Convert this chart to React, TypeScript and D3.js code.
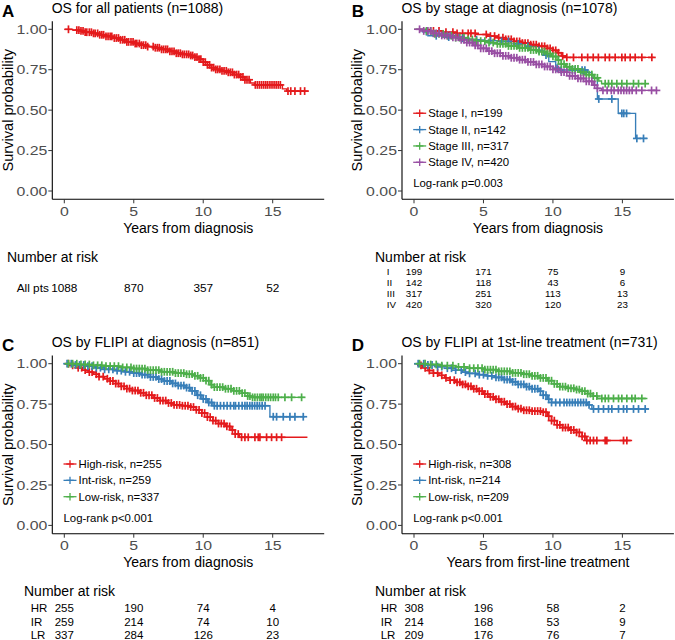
import React from "react";
import * as d3 from "d3";

const FONT = "'Liberation Sans', Arial, Helvetica, sans-serif";
const RED = "#E41A1C";
const BLUE = "#377EB8";
const GREEN = "#4DAF4A";
const PURPLE = "#984EA3";

const xTicks = [0, 5, 10, 15];
const yTicks = [0, 0.25, 0.5, 0.75, 1];
const yTickLabels = ["0.00", "0.25", "0.50", "0.75", "1.00"];
const riskTimes = [0, 5, 10, 15];

// ---------- Panel A ----------
const allSteps = [[0,1],[0.6,0.995],[1.1,0.99],[1.5,0.982],[2.0,0.975],[2.5,0.966],[3.0,0.956],[3.5,0.946],[4.0,0.935],[4.5,0.922],[5.0,0.912],[5.5,0.902],[6.0,0.893],[6.5,0.886],[7.0,0.876],[7.5,0.864],[8.0,0.852],[8.5,0.845],[9.0,0.838],[9.4,0.828],[9.7,0.815],[10.0,0.797],[10.3,0.78],[10.6,0.763],[10.9,0.752],[11.3,0.743],[11.8,0.734],[12.2,0.72],[12.6,0.705],[13.0,0.688],[13.4,0.668],[13.7,0.656],[15.7,0.632],[16.0,0.618]];
const allEnd = 17.6;
const allCensor = [0.3,0.9,1.05,1.2,1.35,1.5,1.62,1.8,1.95,2.1,2.22,2.4,2.55,2.7,2.83,3.0,3.15,3.3,3.42,3.6,3.75,3.9,4.04,4.2,4.35,4.5,4.63,4.8,4.95,5.1,5.22,5.4,5.55,5.7,5.86,6.0,6.4,6.55,6.7,6.84,7.0,7.15,7.3,7.43,7.6,7.75,7.9,8.06,8.2,8.35,8.5,8.64,8.8,8.95,9.1,9.24,9.4,9.55,9.7,9.83,10.0,10.15,10.3,10.46,10.6,10.75,10.9,11.04,11.2,11.35,11.5,11.66,11.8,11.95,12.1,12.24,12.4,12.55,12.7,12.86,13.0,13.15,13.3,13.75,13.9,14.05,14.2,14.35,14.5,14.64,14.8,14.95,15.1,15.25,15.4,15.55,16.1,16.3,16.6,17.0,17.3];
const riskAll = [1088, 870, 357, 52];

// ---------- Panel B ----------
const stageISteps = [[0,1],[1.2,0.99],[2.0,0.982],[3.0,0.975],[4.5,0.968],[5.3,0.958],[6.0,0.948],[6.6,0.938],[7.2,0.925],[7.8,0.915],[8.4,0.905],[9.0,0.895],[9.6,0.882],[10.0,0.87],[10.3,0.855],[10.6,0.835],[10.9,0.826]];
const stageIEnd = 17.3;
const stageICensor = [1.4,1.8,2.3,2.8,3.1,3.5,3.9,4.1,4.4,5.2,5.5,5.8,6.1,6.4,6.6,6.8,7.0,7.2,7.4,7.6,7.8,8.0,8.2,8.4,8.6,8.8,9.0,9.2,9.4,9.6,9.8,10.0,10.2,10.4,10.7,11.0,11.48,12.08,12.5,12.9,13.27,13.76,14.07,14.48,14.96,15.2,15.56,15.92,16.4,17.12];
const stageIISteps = [[0,1],[0.6,0.985],[1.0,0.96],[2.0,0.952],[3.0,0.945],[4.0,0.935],[5.0,0.93],[6.0,0.925],[7.0,0.91],[8.0,0.895],[8.8,0.87],[9.3,0.84],[9.7,0.8],[10.2,0.76],[10.6,0.748],[12.5,0.734],[12.8,0.697],[13.2,0.569],[14.7,0.48],[15.95,0.325]];
const stageIIEnd = 16.8;
const stageIICensor = [0.9,1.6,2.5,3.5,4.5,5.5,6.3,6.8,7.5,8.2,9.0,9.5,10.3,10.6,11.4,11.6,12.1,12.3,13.3,14.24,14.96,15.1,15.3,16.04,16.52];
const stageIIISteps = [[0,1],[0.8,0.99],[1.5,0.972],[2.2,0.96],[3.0,0.948],[3.8,0.937],[4.5,0.927],[5.3,0.918],[6.0,0.91],[6.8,0.897],[7.5,0.885],[8.3,0.872],[9.0,0.862],[9.5,0.85],[9.9,0.832],[10.3,0.81],[10.6,0.785],[10.9,0.768],[11.4,0.755],[11.9,0.735],[12.4,0.72],[12.9,0.7],[13.3,0.68],[13.5,0.664]];
const stageIIIEnd = 16.9;
const stageIIICensor = [0.9,1.2,1.5,1.8,2.1,2.4,2.7,3.0,3.3,3.6,3.9,4.2,4.5,4.8,5.1,5.4,5.7,6.0,6.2,6.4,6.6,6.8,7.0,7.2,7.4,7.6,7.8,8.0,8.2,8.4,8.6,8.8,9.0,9.2,9.4,9.6,9.8,10.0,10.2,10.4,10.6,10.8,11.0,11.2,11.4,11.6,11.8,12.0,12.2,12.4,12.6,12.8,13.0,13.2,13.76,14.0,14.24,14.6,14.96,15.32,15.8,16.16,16.64];
const stageIVSteps = [[0,1],[0.7,0.99],[1.3,0.975],[2.0,0.962],[2.7,0.95],[3.3,0.935],[3.8,0.918],[4.3,0.9],[4.8,0.882],[5.3,0.865],[5.8,0.852],[6.4,0.836],[7.0,0.824],[7.6,0.812],[8.2,0.798],[8.8,0.783],[9.4,0.77],[10.0,0.752],[10.6,0.735],[11.2,0.712],[11.8,0.696],[12.4,0.678],[12.9,0.655],[13.2,0.635],[13.5,0.622]];
const stageIVEnd = 17.5;
const stageIVCensor = [0.4,0.7,1.0,1.2,1.4,1.6,1.8,2.0,2.2,2.4,2.6,2.8,3.0,3.2,3.4,3.6,3.8,4.0,4.2,4.4,4.6,4.8,5.0,5.2,5.4,5.6,5.8,6.0,6.2,6.4,6.6,6.8,7.0,7.2,7.4,7.6,7.8,8.0,8.2,8.4,8.6,8.8,9.0,9.2,9.4,9.6,9.8,10.0,10.2,10.4,10.6,10.8,11.0,11.2,11.4,11.6,11.8,12.0,12.2,12.4,12.6,12.8,13.0,13.2,13.6,13.9,14.2,14.4,14.7,14.9,15.1,15.3,15.5,15.7,16.0,16.4,17.1,17.45];
const riskStageI = [199, 171, 75, 9];
const riskStageII = [142, 118, 43, 6];
const riskStageIII = [317, 251, 113, 13];
const riskStageIV = [420, 320, 120, 23];

// ---------- Panel C ----------
const cHighSteps = [[0,1],[0.5,0.99],[0.9,0.975],[1.3,0.96],[1.7,0.948],[2.1,0.935],[2.5,0.92],[2.9,0.907],[3.3,0.893],[3.7,0.877],[4.1,0.86],[4.5,0.846],[4.9,0.834],[5.4,0.82],[5.9,0.805],[6.4,0.788],[6.9,0.772],[7.4,0.757],[7.9,0.745],[8.5,0.74],[9.1,0.732],[9.5,0.715],[9.9,0.695],[10.3,0.67],[10.7,0.648],[11.1,0.63],[11.6,0.612],[12.0,0.59],[12.3,0.565],[12.6,0.545]];
const cHighEnd = 17.5;
const cHighCensor = [0.3,0.6,1.0,1.25,1.5,1.8,2.0,2.3,2.5,2.8,3.1,3.3,3.5,3.7,3.9,4.1,4.3,4.5,4.7,4.9,5.1,5.3,5.5,5.7,5.9,6.1,6.3,6.5,6.7,6.9,7.1,7.3,7.5,7.7,7.9,8.1,8.3,8.5,8.7,8.9,9.1,9.3,9.5,9.7,9.9,10.1,10.3,10.5,10.7,10.9,11.1,11.3,11.5,11.7,11.9,12.1,12.3,12.52,12.76,13.0,13.24,13.72,13.96,14.08,14.56,14.92,15.28,15.64];
const cIntSteps = [[0,1],[0.8,0.992],[1.5,0.985],[2.2,0.975],[2.9,0.965],[3.6,0.957],[4.3,0.95],[5.0,0.942],[5.6,0.932],[6.2,0.918],[6.7,0.905],[7.2,0.893],[7.7,0.878],[8.2,0.865],[8.7,0.852],[9.1,0.832],[9.5,0.805],[9.9,0.782],[10.3,0.76],[10.7,0.74],[14.8,0.672]];
const cIntEnd = 17.3;
const cIntCensor = [0.2,0.5,0.8,1.1,1.4,1.7,2.0,2.3,2.6,2.9,3.2,3.5,3.8,4.1,4.4,4.7,5.0,5.2,5.4,5.6,5.8,6.0,6.2,6.4,6.6,6.8,7.0,7.2,7.4,7.6,7.8,8.0,8.2,8.4,8.6,8.8,9.0,9.2,9.4,9.6,9.8,10.0,10.2,10.4,10.6,10.8,11.0,11.24,11.48,11.72,11.96,12.2,12.32,12.56,12.8,13.0,13.16,13.35,13.52,13.7,13.88,14.05,14.24,14.45,15.04,15.28,15.76,16.24,16.6,17.2];
const cLowSteps = [[0,1],[1.0,0.995],[2.0,0.99],[3.0,0.985],[4.0,0.977],[5.0,0.97],[6.0,0.96],[7.0,0.95],[8.0,0.942],[8.8,0.935],[9.4,0.925],[9.8,0.912],[10.2,0.895],[10.5,0.87],[10.8,0.855],[11.5,0.845],[12.2,0.832],[12.8,0.818],[13.2,0.8],[13.4,0.792]];
const cLowEnd = 17.3;
const cLowCensor = [0.3,0.6,0.9,1.2,1.5,1.8,2.1,2.4,2.7,3.0,3.3,3.6,3.9,4.2,4.5,4.8,5.0,5.2,5.4,5.6,5.8,6.0,6.2,6.4,6.6,6.8,7.0,7.2,7.4,7.6,7.8,8.0,8.2,8.4,8.6,8.8,9.0,9.2,9.4,9.6,9.8,10.0,10.2,10.4,10.6,10.8,11.0,11.2,11.4,11.6,11.8,12.0,12.2,12.4,12.6,12.8,13.0,13.2,13.36,13.55,13.72,13.9,14.08,14.2,14.32,14.5,14.68,14.85,15.04,15.2,15.4,15.88,16.36,17.08];
const riskCHigh = [255, 190, 74, 4];
const riskCInt = [259, 214, 74, 10];
const riskCLow = [337, 284, 126, 23];

// ---------- Panel D ----------
const dHighSteps = [[0,1],[0.3,0.99],[0.6,0.975],[1.0,0.958],[1.4,0.942],[1.8,0.928],[2.2,0.912],[2.6,0.898],[3.0,0.885],[3.4,0.872],[3.8,0.86],[4.2,0.845],[4.6,0.83],[5.0,0.812],[5.4,0.795],[5.8,0.78],[6.2,0.765],[6.6,0.75],[7.0,0.735],[7.4,0.722],[7.8,0.712],[8.5,0.707],[9.3,0.7],[9.6,0.675],[9.9,0.648],[10.3,0.622],[10.7,0.605],[11.2,0.59],[11.7,0.575],[12.1,0.55],[12.4,0.525]];
const dHighEnd = 15.7;
const dHighCensor = [0.5,0.8,1.1,1.4,1.7,2.0,2.3,2.6,2.9,3.1,3.3,3.5,3.7,3.9,4.1,4.3,4.5,4.7,4.9,5.1,5.3,5.5,5.7,5.9,6.1,6.3,6.5,6.7,6.9,7.1,7.3,7.5,7.7,7.9,8.1,8.3,8.5,8.7,8.9,9.1,9.3,9.5,9.7,9.9,10.1,10.3,10.5,10.7,10.9,11.1,11.3,11.5,11.7,11.9,12.1,12.3,12.44,12.68,12.92,13.16,13.76,13.88,15.08,15.32];
const dIntSteps = [[0,1],[0.8,0.992],[1.6,0.982],[2.4,0.972],[3.0,0.96],[3.5,0.948],[4.0,0.94],[4.6,0.932],[5.2,0.925],[5.8,0.915],[6.4,0.902],[7.0,0.888],[7.5,0.872],[8.0,0.858],[8.5,0.845],[9.0,0.83],[9.3,0.805],[9.6,0.78],[9.9,0.76],[12.5,0.745],[12.8,0.72]];
const dIntEnd = 16.9;
const dIntCensor = [0.3,0.7,1.0,1.3,1.7,2.0,2.4,2.7,3.0,3.4,3.7,4.0,4.4,4.7,5.0,5.3,5.6,5.9,6.1,6.3,6.5,6.7,6.9,7.1,7.3,7.5,7.7,7.9,8.1,8.3,8.5,8.7,8.9,9.1,9.3,9.5,9.7,9.9,10.2,10.5,10.8,11.0,11.2,11.4,11.6,11.8,12.0,12.2,12.4,12.6,12.92,13.28,13.64,14.0,14.24,14.72,15.08,15.32,15.8,16.16,16.64];
const dLowSteps = [[0,1],[1.0,0.995],[2.0,0.988],[3.0,0.98],[4.0,0.972],[5.0,0.963],[6.0,0.953],[7.0,0.943],[7.8,0.935],[8.5,0.925],[9.1,0.912],[9.6,0.895],[10.1,0.875],[10.5,0.858],[11.0,0.848],[11.6,0.84],[12.1,0.83],[12.5,0.815],[12.9,0.8],[13.2,0.785]];
const dLowEnd = 16.8;
const dLowCensor = [0.4,0.8,1.2,1.6,2.0,2.4,2.8,3.2,3.6,4.0,4.3,4.6,4.9,5.1,5.3,5.5,5.7,5.9,6.1,6.3,6.5,6.7,6.9,7.1,7.3,7.5,7.7,7.9,8.1,8.3,8.5,8.7,8.9,9.1,9.3,9.5,9.7,9.9,10.1,10.3,10.5,10.7,10.9,11.1,11.3,11.5,11.7,11.9,12.1,12.3,12.5,12.7,12.9,13.16,13.52,13.76,14.0,14.36,14.72,14.96,15.32,15.68,15.92,16.4];
const riskDHigh = [308, 196, 58, 2];
const riskDInt = [214, 168, 53, 9];
const riskDLow = [209, 176, 76, 7];

type Curve = { steps: number[][]; end: number; censor: number[]; color: string };

const xScale = d3.scaleLinear().domain([0, 15]).range([64.3, 272.7]);
const yScale = d3.scaleLinear().domain([0, 1]).range([191, 29.3]);
const AX_L = 52.3, AX_R = 324.2, AX_T = 21.2, AX_B = 199.3;

function survAt(steps: number[][], t: number) {
  let s = steps[0][1];
  for (const p of steps) { if (p[0] <= t) s = p[1]; }
  return s;
}

const stepLine = d3.line<number[]>().x(d => xScale(d[0])).y(d => yScale(d[1])).curve(d3.curveStepAfter);

function Plus({ x, y, color, h = 3.9, w = 1.7 }: { x: number; y: number; color: string; h?: number; w?: number }) {
  return (
    <g stroke={color} strokeWidth={w}>
      <line x1={x - h} x2={x + h} y1={y} y2={y} />
      <line x1={x} x2={x} y1={y - h} y2={y + h} />
    </g>
  );
}

type PanelProps = {
  dx: number; dy: number; letter: string; title: string; xLabel: string;
  curves: Curve[]; legend: string[] | null; logrank: string | null;
  riskHeaderX: number; riskLabelX: number; riskLabels: string[]; riskRows: number[][];
  riskBaselines: number[]; riskFont: number;
};

function Panel(p: PanelProps) {
  const n = p.legend ? p.legend.length : 0;
  return (
    <g transform={`translate(${p.dx},${p.dy})`} fontFamily={FONT}>
      <text x={2} y={16.7} fontSize={17} fontWeight="bold" fill="#000">{p.letter}</text>
      <text x={51.7} y={12.8} fontSize={14} fill="#000">{p.title}</text>
      <line x1={AX_L} x2={AX_L} y1={AX_T} y2={AX_B} stroke="#000" strokeWidth={1.1} />
      <line x1={AX_L} x2={AX_R} y1={AX_B} y2={AX_B} stroke="#000" strokeWidth={1.1} />
      {yTicks.map((v, i) => (
        <g key={"y" + i}>
          <line x1={AX_L - 4} x2={AX_L} y1={yScale(v)} y2={yScale(v)} stroke="#333" strokeWidth={1} />
          <text transform={`translate(${AX_L - 5},${yScale(v) + 4.7}) scale(1.22,1)`} textAnchor="end" fontSize={13} fill="#4D4D4D">{yTickLabels[i]}</text>
        </g>
      ))}
      {xTicks.map((v, i) => (
        <g key={"x" + i}>
          <line x1={xScale(v)} x2={xScale(v)} y1={AX_B} y2={AX_B + 4} stroke="#333" strokeWidth={1} />
          <text transform={`translate(${xScale(v)},${215.5}) scale(1.22,1)`} textAnchor="middle" fontSize={13} fill="#4D4D4D">{String(v)}</text>
        </g>
      ))}
      <text transform={`translate(12.5,${(AX_T + AX_B) / 2}) rotate(-90)`} textAnchor="middle" fontSize={14.6} fill="#000">Survival probability</text>
      <text x={(AX_L + AX_R) / 2} y={233} textAnchor="middle" fontSize={14} fill="#000">{p.xLabel}</text>
      {p.curves.map((c, i) => (
        <path key={"c" + i} d={stepLine([...c.steps, [c.end, c.steps[c.steps.length - 1][1]]]) || ""} fill="none" stroke={c.color} strokeWidth={1.35} />
      ))}
      {p.curves.map((c, i) => (
        <g key={"m" + i}>
          {c.censor.map((t, j) => (
            <Plus key={j} x={xScale(t)} y={yScale(survAt(c.steps, t))} color={c.color} />
          ))}
        </g>
      ))}
      {p.legend && p.legend.map((lab, i) => {
        const cy = 162.3 - (n - 1 - i) * 16.35;
        const col = p.curves[i].color;
        return (
          <g key={"l" + i}>
            <line x1={63.5} x2={76.5} y1={cy} y2={cy} stroke={col} strokeWidth={1.3} />
            <Plus x={70} y={cy} color={col} h={3.7} w={1.3} />
            <text x={78.5} y={cy + 4} fontSize={11.4} fill="#000">{lab}</text>
          </g>
        );
      })}
      {p.logrank && <text x={63.5} y={187.3} fontSize={11.4} fill="#000">{p.logrank}</text>}
      <text x={p.riskHeaderX} y={261.7} fontSize={14} fill="#000">Number at risk</text>
      {p.riskRows.map((row, r) => (
        <g key={"r" + r} fontSize={p.riskFont} fill="#000">
          <text x={p.riskLabelX} y={p.riskBaselines[r]}>{p.riskLabels[r]}</text>
          {row.map((v, k) => (
            <text key={k} x={xScale(riskTimes[k])} y={p.riskBaselines[r]} textAnchor="middle">{v}</text>
          ))}
        </g>
      ))}
    </g>
  );
}

export default function App() {
  const DX = 349.7, DY = 334.4;
  return (
    <svg width={675} height={640} style={{ position: "absolute", left: 0, top: 0, background: "#fff" }}>
      <rect width={675} height={640} fill="#fff" />
      <Panel dx={0} dy={0} letter="A" title="OS for all patients (n=1088)" xLabel="Years from diagnosis"
        curves={[{ steps: allSteps, end: allEnd, censor: allCensor, color: RED }]}
        legend={null} logrank={null}
        riskHeaderX={7} riskLabelX={16.7} riskLabels={["All pts"]} riskRows={[riskAll]}
        riskBaselines={[292.3]} riskFont={11.8} />
      <Panel dx={DX} dy={0} letter="B" title="OS by stage at diagnosis (n=1078)" xLabel="Years from diagnosis"
        curves={[
          { steps: stageISteps, end: stageIEnd, censor: stageICensor, color: RED },
          { steps: stageIISteps, end: stageIIEnd, censor: stageIICensor, color: BLUE },
          { steps: stageIIISteps, end: stageIIIEnd, censor: stageIIICensor, color: GREEN },
          { steps: stageIVSteps, end: stageIVEnd, censor: stageIVCensor, color: PURPLE },
        ]}
        legend={["Stage I, n=199", "Stage II, n=142", "Stage III, n=317", "Stage IV, n=420"]}
        logrank="Log-rank p=0.003"
        riskHeaderX={25.3} riskLabelX={37} riskLabels={["I", "II", "III", "IV"]}
        riskRows={[riskStageI, riskStageII, riskStageIII, riskStageIV]}
        riskBaselines={[274.9, 285.9, 296.9, 307.9]} riskFont={9.8} />
      <Panel dx={0} dy={DY} letter="C" title="OS by FLIPI at diagnosis (n=851)" xLabel="Years from diagnosis"
        curves={[
          { steps: cHighSteps, end: cHighEnd, censor: cHighCensor, color: RED },
          { steps: cIntSteps, end: cIntEnd, censor: cIntCensor, color: BLUE },
          { steps: cLowSteps, end: cLowEnd, censor: cLowCensor, color: GREEN },
        ]}
        legend={["High-risk, n=255", "Int-risk, n=259", "Low-risk, n=337"]}
        logrank="Log-rank p<0.001"
        riskHeaderX={24} riskLabelX={30.7} riskLabels={["HR", "IR", "LR"]}
        riskRows={[riskCHigh, riskCInt, riskCLow]}
        riskBaselines={[277.3, 291.3, 304.9]} riskFont={11.5} />
      <Panel dx={DX} dy={DY} letter="D" title="OS by FLIPI at 1st-line treatment (n=731)" xLabel="Years from first-line treatment"
        curves={[
          { steps: dHighSteps, end: dHighEnd, censor: dHighCensor, color: RED },
          { steps: dIntSteps, end: dIntEnd, censor: dIntCensor, color: BLUE },
          { steps: dLowSteps, end: dLowEnd, censor: dLowCensor, color: GREEN },
        ]}
        legend={["High-risk, n=308", "Int-risk, n=214", "Low-risk, n=209"]}
        logrank="Log-rank p<0.001"
        riskHeaderX={25.3} riskLabelX={31} riskLabels={["HR", "IR", "LR"]}
        riskRows={[riskDHigh, riskDInt, riskDLow]}
        riskBaselines={[277.3, 291.3, 304.9]} riskFont={11.5} />
    </svg>
  );
}
